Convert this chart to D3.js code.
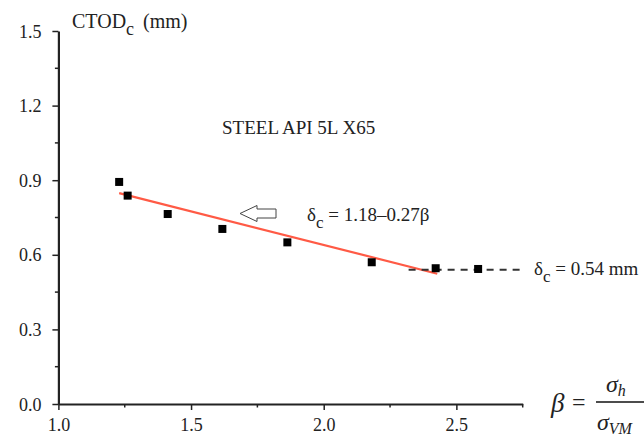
<!DOCTYPE html>
<html>
<head>
<meta charset="utf-8">
<script src="https://cdn.jsdelivr.net/npm/d3@7"></script>
<style>
  body { margin: 0; background: #fff; }
  svg { display: block; }
  text { font-family: "Liberation Serif", "Times New Roman", serif; fill: #222; }
</style>
</head>
<body>
<div id="chart"></div>
<script>
// measured points (beta, CTODc in mm)
const beta = [1.229, 1.261, 1.412, 1.618, 1.863, 2.181, 2.422, 2.582];
const ctod = [0.893, 0.838, 0.764, 0.704, 0.650, 0.570, 0.546, 0.543];

// fitted line delta_c = 1.18 - 0.27 beta, drawn between its end points
const fitBeta = [1.229, 2.428];
const fitCtod = [0.848, 0.524];

// lower shelf delta_c = 0.54 mm
const shelfBeta = [2.32, 2.75];
const shelfCtod = [0.54, 0.54];

const xTicks = [1.0, 1.5, 2.0, 2.5];
const xMinor = [1.25, 1.75, 2.25, 2.75];
const yTicks = [0.0, 0.3, 0.6, 0.9, 1.2, 1.5];
const yMinor = [0.15, 0.45, 0.75, 1.05, 1.35];

const width = 644, height = 437;

const svg = d3.select('#chart').append('svg')
    .attr('width', width)
    .attr('height', height);

const x = d3.scaleLinear().domain([1, 2.75]).range([58.4, 522.7]);
const y = d3.scaleLinear().domain([0, 1.5]).range([404, 31]);

const axisColor = '#222';

// axes
const xAxis = svg.append('g').attr('transform', 'translate(0,' + y(0) + ')')
    .call(d3.axisBottom(x).tickValues(xTicks).tickFormat(d3.format('.1f'))
        .tickSize(6).tickSizeOuter(0).tickPadding(8));
xAxis.append('g').selectAll('line').data(xMinor).enter().append('line')
    .attr('x1', d => x(d)).attr('x2', d => x(d))
    .attr('y1', 0).attr('y2', 3.5)
    .attr('stroke', axisColor).attr('stroke-width', 1.5);

const yAxis = svg.append('g').attr('transform', 'translate(' + x(1) + ',0)')
    .call(d3.axisLeft(y).tickValues(yTicks).tickFormat(d3.format('.1f'))
        .tickSize(6).tickSizeOuter(0).tickPadding(11));
yAxis.append('g').selectAll('line').data(yMinor).enter().append('line')
    .attr('x1', 0).attr('x2', -3.5)
    .attr('y1', d => y(d)).attr('y2', d => y(d))
    .attr('stroke', axisColor).attr('stroke-width', 1.5);

svg.selectAll('.domain').attr('stroke', axisColor).attr('stroke-width', 2.2);
svg.selectAll('.tick line').attr('stroke', axisColor).attr('stroke-width', 1.5);
svg.selectAll('.tick text')
    .style('font-family', '"Liberation Serif", "Times New Roman", serif')
    .style('font-size', '18px')
    .attr('fill', '#333');
yAxis.selectAll('.tick text').attr('dy', '0.34em');

// fitted line
const line = d3.line().x(d => x(d[0])).y(d => y(d[1]));
svg.append('path')
    .attr('d', line(d3.zip(fitBeta, fitCtod)))
    .attr('fill', 'none')
    .attr('stroke', '#ff5a45')
    .attr('stroke-width', 2.2);

// shelf line
svg.append('path')
    .attr('d', line(d3.zip(shelfBeta, shelfCtod)))
    .attr('fill', 'none')
    .attr('stroke', '#333')
    .attr('stroke-width', 2)
    .attr('stroke-dasharray', '7,6');

// markers
const s = 8;
svg.append('g').selectAll('rect')
    .data(d3.zip(beta, ctod))
    .enter().append('rect')
    .attr('x', d => x(d[0]) - s / 2)
    .attr('y', d => y(d[1]) - s / 2)
    .attr('width', s)
    .attr('height', s)
    .attr('fill', '#000');

// arrow pointing left
const ax = 240, ay = 213.5;
svg.append('path')
    .attr('d', 'M' + ax + ',' + ay + ' L' + (ax + 17) + ',' + (ay - 8) + ' L' + (ax + 17) + ',' + (ay - 4.5) +
        ' L' + (ax + 36) + ',' + (ay - 4.5) + ' L' + (ax + 36) + ',' + (ay + 4.5) +
        ' L' + (ax + 17) + ',' + (ay + 4.5) + ' L' + (ax + 17) + ',' + (ay + 8) + 'Z')
    .attr('fill', '#fff')
    .attr('stroke', '#444')
    .attr('stroke-width', 1);

// y axis title
const yt = svg.append('text').attr('x', 72).attr('y', 28).style('font-size', '20px');
yt.append('tspan').text('CTOD');
yt.append('tspan').attr('dy', 7).style('font-size', '18px').text('c');
yt.append('tspan').attr('dy', -7).attr('dx', 4).text(' (mm)');

svg.append('text').attr('x', 222).attr('y', 134).style('font-size', '19px')
    .text('STEEL API 5L X65');

// equations
const e1 = svg.append('text').attr('x', 307).attr('y', 221).style('font-size', '19px');
e1.append('tspan').text('δ');
e1.append('tspan').attr('dy', 7).style('font-size', '17px').text('c');
e1.append('tspan').attr('dy', -7).text(' = 1.18–0.27β');

const e2 = svg.append('text').attr('x', 534).attr('y', 275).style('font-size', '19px');
e2.append('tspan').text('δ');
e2.append('tspan').attr('dy', 7).style('font-size', '17px').text('c');
e2.append('tspan').attr('dy', -7).text(' = 0.54 mm');

// beta definition
const bf = svg.append('g');
bf.append('text').attr('x', 551).attr('y', 412).style('font-size', '27px')
    .style('font-style', 'italic').text('β');
bf.append('text').attr('x', 572).attr('y', 410).style('font-size', '24px').text('=');
bf.append('line').attr('x1', 596).attr('x2', 644).attr('y1', 402).attr('y2', 402)
    .attr('stroke', '#111').attr('stroke-width', 1.3);
const num = bf.append('text').attr('x', 606).attr('y', 392).style('font-size', '24px').style('font-style', 'italic');
num.append('tspan').text('σ');
num.append('tspan').attr('dy', 4).style('font-size', '16px').text('h');
const den = bf.append('text').attr('x', 597).attr('y', 430).style('font-size', '24px').style('font-style', 'italic');
den.append('tspan').text('σ');
den.append('tspan').attr('dy', 4).style('font-size', '16px').text('VM');
</script>
</body>
</html>
